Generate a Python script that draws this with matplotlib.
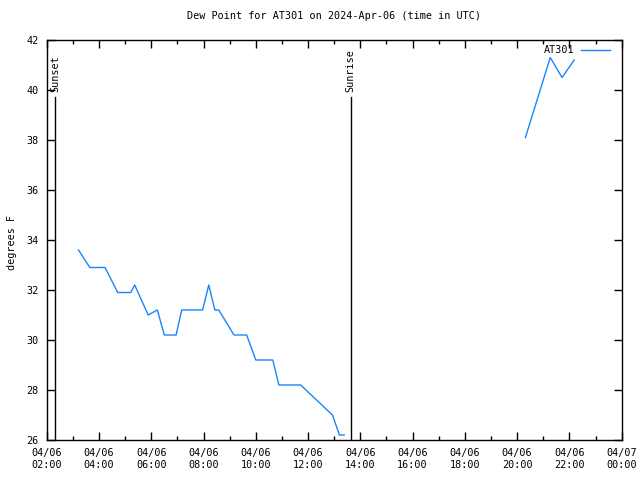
import matplotlib
matplotlib.use("Agg")
import matplotlib.pyplot as plt
import matplotlib.dates as mdates
import numpy as np
import pandas as pd

# dew point readings (UTC), gap between the two sets
times = ["03:13", "03:39", "04:14", "04:43", "05:13", "05:22", "05:53", "06:14",
         "06:30", "06:57", "07:10", "07:58", "08:12", "08:26", "08:35", "09:10",
         "09:39", "10:00", "10:39", "10:53", "11:43", "12:56", "13:12", "13:23",
         None,
         "20:19", "21:16", "21:43", "22:11"]
dewpt = [33.6, 32.9, 32.9, 31.9, 31.9, 32.2, 31.0, 31.2,
         30.2, 30.2, 31.2, 31.2, 32.2, 31.2, 31.2, 30.2,
         30.2, 29.2, 29.2, 28.2, 28.2, 27.0, 26.2, 26.2,
         np.nan,
         38.1, 41.3, 40.5, 41.2]

sunset = "02:19"
sunrise = "13:38"
day = "2024-04-06"
xmin, xmax = "2024-04-06 02:00", "2024-04-07 00:00"

mono = "DejaVu Sans Mono"
fs = 7.3

def ts(t):
    return pd.Timestamp(f"{day} {t}") if t else pd.Timestamp(f"{day} 17:00")

x = [ts(t) for t in times]

fig = plt.figure(figsize=(6.4, 4.8), dpi=100)
ax = fig.add_axes([46.7/640, 40/480, 575/640, 400/480])

ax.plot(x, dewpt, color="#1a84ff", lw=1, label="AT301")

for name, t in [("Sunset", sunset), ("Sunrise", sunrise)]:
    ax.plot([ts(t), ts(t)], [26, 39.7], color="black", lw=1)
    ax.text(ts(t), 39.9, name, rotation=90, ha="center", va="bottom",
            family=mono, fontsize=fs)

ax.set_xlim(pd.Timestamp(xmin), pd.Timestamp(xmax))
ax.set_ylim(26, 42)
ax.set_yticks(np.arange(26, 43, 2))
ax.xaxis.set_major_locator(mdates.HourLocator(byhour=range(0, 24, 2)))
ax.xaxis.set_minor_locator(mdates.HourLocator())
ax.xaxis.set_major_formatter(mdates.DateFormatter("%m/%d\n%H:%M"))

ax.tick_params(which="both", direction="in", top=True, right=True,
               labelsize=fs, pad=6)
ax.tick_params(which="major", length=6, width=1)
ax.tick_params(which="minor", length=3, width=1)
for lab in ax.get_xticklabels() + ax.get_yticklabels():
    lab.set_family(mono)
for s in ax.spines.values():
    s.set_linewidth(1)

ax.set_title("Dew Point for AT301 on 2024-Apr-06 (time in UTC)",
             family=mono, fontsize=fs, pad=15)
ax.set_ylabel("degrees F", family=mono, fontsize=fs)
ax.yaxis.set_label_coords(-30/575, 0.495)

ax.legend(loc="upper right", bbox_to_anchor=(0.98, 0.987), frameon=False,
          markerfirst=False, prop={"family": mono, "size": fs},
          handlelength=2.85, borderaxespad=0, borderpad=0, handletextpad=0.7)

fig.savefig("out.png", dpi=100)
